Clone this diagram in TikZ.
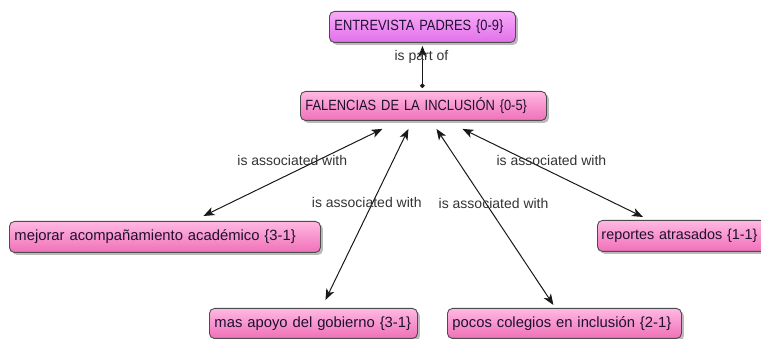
\documentclass[tikz,border=0pt]{standalone}
\usepackage{fontspec}
\setmainfont{Liberation Sans}
\newfontfamily\capsfont[FakeStretch=0.87]{Liberation Sans}
\usetikzlibrary{arrows.meta,shadows}
\definecolor{pinktop}{HTML}{FFB8E2}
\definecolor{pinkbot}{HTML}{F070B8}
\definecolor{viotop}{HTML}{F8AAF8}
\definecolor{viobot}{HTML}{E270EA}
\definecolor{txt}{HTML}{1E1030}
\definecolor{lbltxt}{HTML}{333333}
\tikzset{
  box/.style={draw=black!70, line width=0.9pt, rounded corners=5pt,
    top color=pinktop, bottom color=pinkbot,
    drop shadow={shadow xshift=2.5pt, shadow yshift=-2.5pt, fill=black!45, opacity=0.6},
    inner xsep=5pt, inner ysep=0pt, minimum height=31pt, align=left,
    anchor=north west, text=txt, font=\fontsize{14.8}{16}\selectfont},
  capsbox/.style={box, font=\capsfont\fontsize{14.8}{16}\selectfont},
  viobox/.style={capsbox, top color=viotop, bottom color=viobot},
  link/.style={draw=black!90, line width=1pt,
    {Stealth[length=11pt,width=8.5pt,inset=3pt]}-{Stealth[length=11pt,width=8.5pt,inset=3pt]}},
  partlink/.style={draw=black!90, line width=1pt,
    {Circle[length=4.5pt]}-{Stealth[length=11pt,width=8.5pt,inset=3pt]}},
  lbl/.style={text=lbltxt, font=\fontsize{14}{16}\selectfont, inner sep=0pt}
}
\begin{document}
\begin{tikzpicture}[x=1pt,y=-1pt]
\useasboundingbox (0,0) rectangle (761,339);
\node[viobox, text width=176pt] (ent) at (329,11) {ENTREVISTA PADRES \{0-9\}};
\node[capsbox, text width=236pt, minimum height=29pt] (fal) at (300,91) {FALENCIAS DE LA INCLUSIÓN \{0-5\}};
\node[box, text width=301pt] (mej) at (9,221) {mejorar acompañamiento académico \{3-1\}};
\node[box, text width=198pt, minimum height=30pt] (mas) at (209,308) {mas apoyo del gobierno \{3-1\}};
\node[box, text width=224pt, minimum height=30pt] (poc) at (447,308) {pocos colegios en inclusión \{2-1\}};
\node[box, inner xsep=4pt, text width=172pt, font=\fontsize{14.4}{16}\selectfont] (rep) at (597,220) {reportes atrasados \{1-1\}};

\draw[partlink] ([xshift=-1pt,yshift=3pt]fal.north) -- node[lbl, pos=0.744, xshift=-1pt] {is part of} ([yshift=-3pt]ent.south);

\draw[link] ([xshift=-41pt,yshift=-8pt]fal.south) -- node[lbl, pos=0.364, xshift=-25pt] {is associated with} ([xshift=38.5pt,yshift=5pt]mej.north);
\draw[link] ([xshift=-15pt,yshift=-8pt]fal.south) -- node[lbl, pos=0.43, xshift=-6pt] {is associated with} ([xshift=12pt,yshift=8pt]mas.north);
\draw[link] ([xshift=13pt,yshift=-8pt]fal.south) -- node[lbl, pos=0.424, xshift=7.5pt] {is associated with} ([xshift=-11pt,yshift=3pt]poc.north);
\draw[link] ([xshift=39pt,yshift=-8pt]fal.south) -- node[lbl, pos=0.36, xshift=24pt] {is associated with} ([xshift=46pt,yshift=3pt]rep.north west);
\end{tikzpicture}
\end{document}
